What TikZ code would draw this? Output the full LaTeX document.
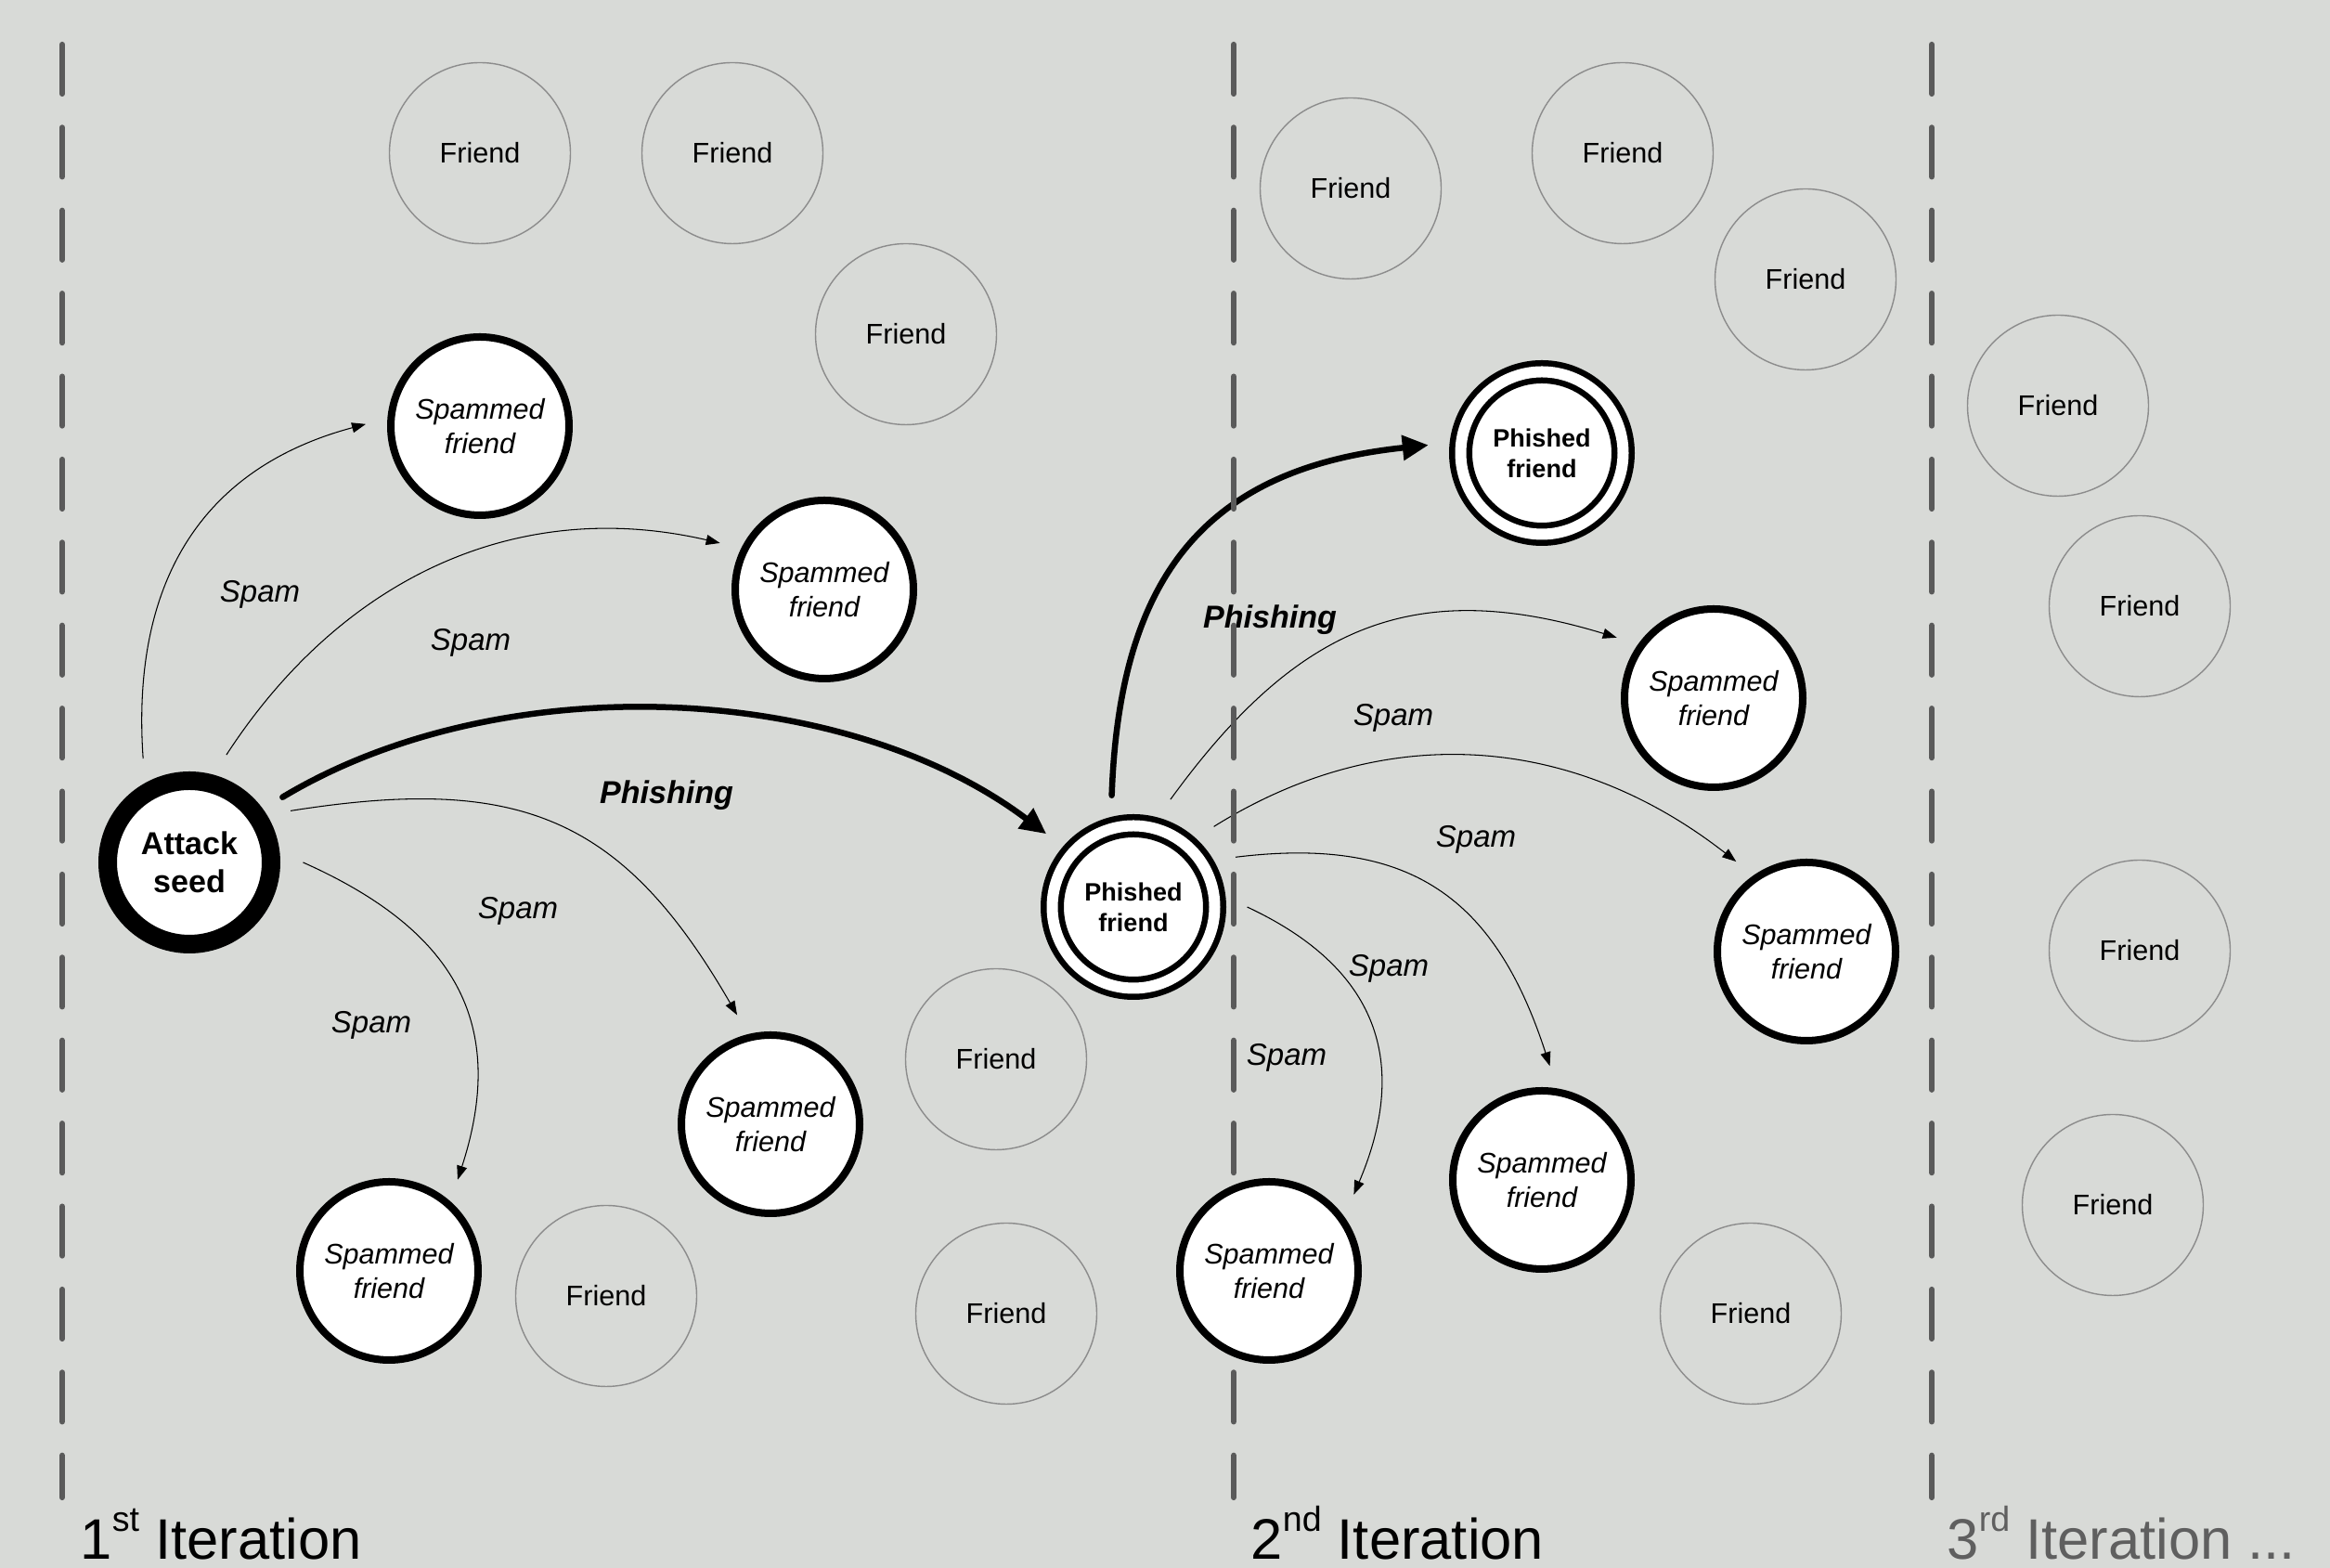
\documentclass[tikz,border=0pt]{standalone}
\usepackage{fontspec}
\setmainfont{Liberation Sans}
\usetikzlibrary{positioning,arrows.meta}

\definecolor{bggray}{RGB}{216,218,215}
\definecolor{dashgray}{RGB}{90,90,90}
\definecolor{friendgray}{RGB}{140,140,140}
\definecolor{itergray}{RGB}{95,95,95}

\pgfdeclarelayer{front}
\pgfsetlayers{main,front}

\newcommand{\ordmark}[1]{\raisebox{0.30cm}{\fontsize{10.7}{12}\selectfont #1}}

\tikzset{
	friend/.style={circle, draw=friendgray, line width=0.4pt, minimum size=1.95cm, inner sep=0pt, font=\fontsize{8.7}{10.5}\selectfont},
	spammed/.style={circle, draw=black, fill=white, line width=0.08cm, minimum size=1.92cm, inner sep=0pt, outer sep=0.27cm, align=center, font=\fontsize{8.7}{10.5}\selectfont\itshape},
	seed/.style={circle, draw=black, fill=white, line width=0.2cm, minimum size=1.76cm, inner sep=0pt, outer sep=0.345cm, align=center, font=\fontsize{9.7}{11.7}\selectfont\bfseries},
	phished/.style={circle, draw=black, double=white, double distance=0.12cm, line width=0.065cm, fill=white, minimum size=1.75cm, inner sep=0pt, outer sep=0.35cm, align=center, font=\fontsize{7.7}{9.4}\selectfont\bfseries},
	spam/.style={-{Triangle[length=0.15cm,width=0.11cm]}, line width=0.3pt},
	phish/.style={-{Triangle[length=0.28cm,width=0.26cm]}, line width=0.065cm, line cap=round},
	spamlabel/.style={font=\fontsize{9.4}{11}\selectfont\itshape},
	phishlabel/.style={font=\fontsize{9.7}{11}\selectfont\bfseries\itshape},
	iterline/.style={dashgray, line width=0.062cm, line cap=round, dash pattern=on 0.53cm off 0.364cm},
	iterlabel/.style={anchor=base west, inner sep=0pt, font=\fontsize{17.5}{21}\selectfont}
}

\begin{document}
\begin{tikzpicture}
		\useasboundingbox (0,0) rectangle (25.10,16.89);
		\fill[bggray] (0,0) rectangle (25.10,16.89);
		
		% friends not reached
		\node[friend] (f1) at (5.17,15.24) {Friend};
		\node[friend] (f2) at (7.89,15.24) {Friend};
		\node[friend] (f3) at (9.76,13.29) {Friend};
		\node[friend] (f4) at (10.73,5.48) {Friend};
		\node[friend] (f5) at (6.53,2.93) {Friend};
		\node[friend] (f6) at (10.84,2.74) {Friend};
		\node[friend] (f7) at (14.55,14.86) {Friend};
		\node[friend] (f8) at (17.48,15.24) {Friend};
		\node[friend] (f9) at (19.45,13.88) {Friend};
		\node[friend] (f10) at (22.17,12.52) {Friend};
		\node[friend] (f11) at (23.05,10.36) {Friend};
		\node[friend] (f12) at (23.05,6.65) {Friend};
		\node[friend] (f13) at (22.76,3.91) {Friend};
		\node[friend] (f14) at (18.86,2.74) {Friend};
		
		\begin{pgfonlayer}{front}
		\node[seed] (seed) at (2.04,7.60) {Attack\\seed};
		\node[phished] (pf) at (12.21,7.12) {Phished\\friend};
		\node[phished] (pf2) at (16.61,12.01) {Phished\\friend};
		
		\node[spammed] (sf1) at (5.17,12.30) {Spammed\\friend};
		\node[spammed] (sf2) at (8.88,10.54) {Spammed\\friend};
		\node[spammed] (sf3) at (8.30,4.78) {Spammed\\friend};
		\node[spammed] (sf4) at (4.19,3.20) {Spammed\\friend};
		\node[spammed] (sf5) at (18.46,9.37) {Spammed\\friend};
		\node[spammed] (sf6) at (19.46,6.64) {Spammed\\friend};
		\node[spammed] (sf7) at (16.61,4.18) {Spammed\\friend};
		\node[spammed] (sf8) at (13.67,3.20) {Spammed\\friend};
		\end{pgfonlayer}
		
		% labels
		\node[spamlabel] (s1) at (2.80,10.49) {Spam};
		\node[spamlabel] (s2) at (5.07,9.97) {Spam};
		\node[phishlabel] (p1) at (7.18,8.32) {Phishing};
		\node[spamlabel] (s3) at (5.58,7.08) {Spam};
		\node[spamlabel] (s4) at (4.00,5.85) {Spam};
		\node[phishlabel] (p2) at (13.68,10.21) {Phishing};
		\node[spamlabel] (s5) at (15.01,9.16) {Spam};
		\node[spamlabel] (s6) at (15.90,7.85) {Spam};
		\node[spamlabel] (s7) at (14.96,6.46) {Spam};
		\node[spamlabel] (s8) at (13.86,5.50) {Spam};
		
		% 1st iteration
		\draw[spam] (seed.114) to[out=94, in=195, looseness=1.1] (sf1.179);
		\draw[spam] (seed.71) to[out=57, in=167] (sf2.156);
		\draw[spam] (seed.27) to[out=9, in=120, looseness=1.2] (sf3.107);
		\draw[spam] (seed.0) to[out=-24, in=72, looseness=1.2] (sf4.53);
		\draw[phish] (seed.35) to[out=31, in=143, looseness=0.85] (pf.140);
		
		% 2nd iteration
		\draw[phish] (pf.101) to[out=88, in=186, looseness=1.2] (pf2.176);
		\draw[spam] (pf.71) to[out=54, in=163, looseness=1.15] (sf5.148);
		\draw[spam] (pf.45) to[out=32, in=142] (sf6.128);
		\draw[spam] (pf.26) to[out=7, in=108, looseness=1.2] (sf7.86);
		\draw[spam] (pf.0) to[out=-25, in=67, looseness=1.2] (sf8.42);
		
		\foreach \x in {0.67,13.29,20.81}
			\draw[iterline] (\x,16.41) -- (\x,0.76);
		
		\node[iterlabel] (it1) at (0.86,0.09) {1\ordmark{st} Iteration};
		\node[iterlabel] (it2) at (13.47,0.09) {2\ordmark{nd} Iteration};
		\node[iterlabel, text=itergray] (it3) at (20.97,0.09) {3\ordmark{rd} Iteration ...};
	\end{tikzpicture}
\end{document}
